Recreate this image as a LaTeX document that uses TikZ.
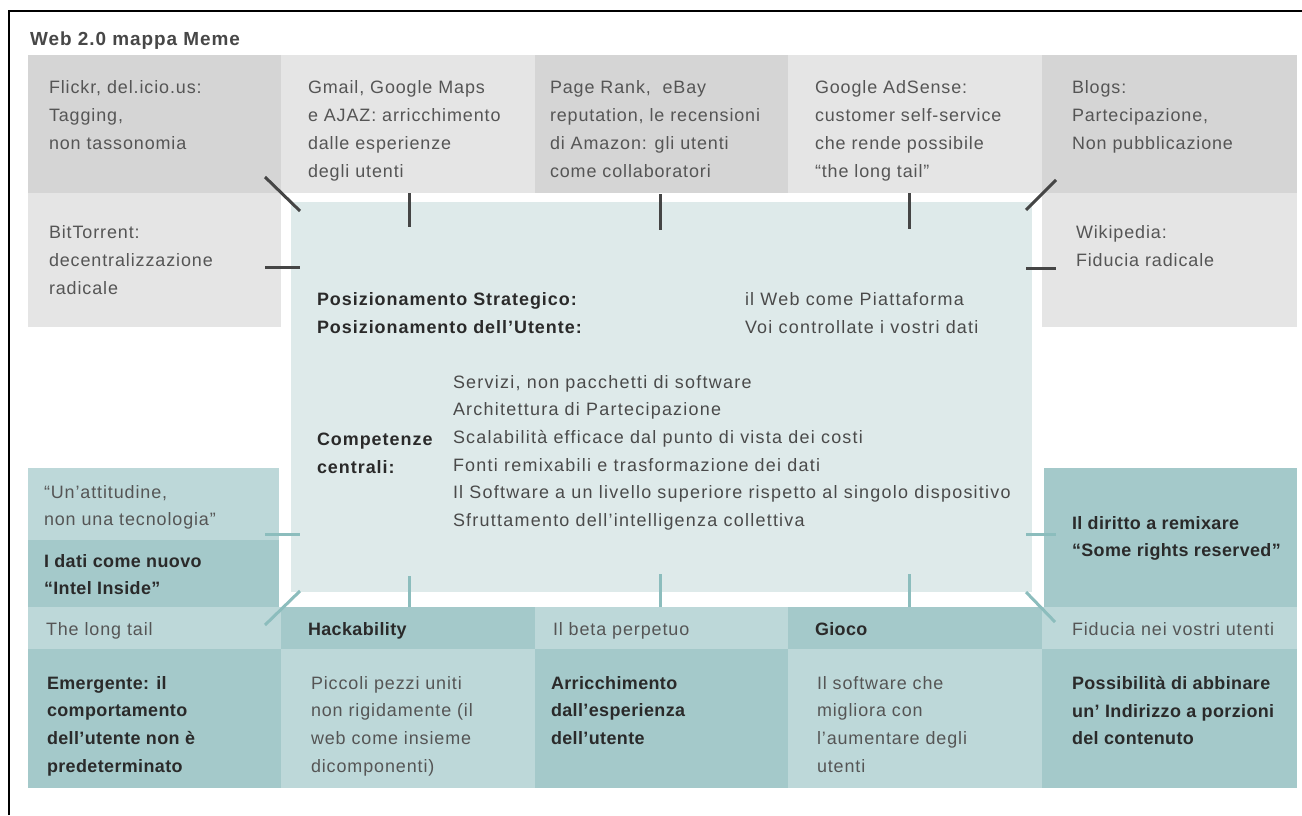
\documentclass[tikz,border=0pt]{standalone}
\usepackage{fontspec}
\setmainfont{Liberation Sans}
\newfontfamily\boxfont[LetterSpace=5]{Liberation Sans}
\newfontfamily\boldfont[LetterSpace=2.2]{Liberation Sans Bold}
\newfontfamily\coreboldfont[LetterSpace=5.5]{Liberation Sans Bold}
\newfontfamily\corefont[LetterSpace=7]{Liberation Sans}
\newfontfamily\titlefont[LetterSpace=5]{Liberation Sans Bold}
\definecolor{greydark}{HTML}{D5D5D5}
\definecolor{greylight}{HTML}{E5E5E5}
\definecolor{coreteal}{HTML}{DEEAEA}
\definecolor{tealdark}{HTML}{A4C9CA}
\definecolor{teallight}{HTML}{BDD8D9}
\definecolor{stubdark}{HTML}{454545}
\definecolor{stubteal}{HTML}{8CBDBD}
\definecolor{textgrey}{HTML}{555555}
\definecolor{textdark}{HTML}{2A2A2A}
\begin{document}
\begin{tikzpicture}[x=1bp,y=-1bp,
  cell/.style={inner sep=0pt, outer sep=0pt, anchor=north west, draw=none},
  txt/.style={anchor=north west, inner sep=0pt, outer sep=0pt, align=left,
    font=\boxfont\fontsize{18}{28}\selectfont, text=textgrey},
  btxt/.style={txt, font=\boldfont\fontsize{18}{28}\selectfont, text=textdark},
  cbtxt/.style={txt, font=\coreboldfont\fontsize{18}{28}\selectfont, text=textdark},
  ctxt/.style={txt, font=\corefont\fontsize{18}{27.8}\selectfont, text=textdark!85},
  darkstub/.style={draw=stubdark, line width=3bp},
  tealstub/.style={draw=stubteal, line width=3bp}]
\useasboundingbox (0,0) rectangle (1302,815);
\fill[white] (0,0) rectangle (1302,815);

% frame
\draw[black, line width=1.5bp] (9,815) -- (9,11) -- (1302,11);

% title
\node[anchor=north west, inner sep=0pt, font=\titlefont\fontsize{19}{20}\selectfont, text=black!72] (title) at (30,32) {Web 2.0 mappa Meme};

% top row of cells
\node[cell, fill=greydark,  minimum width=253bp, minimum height=138bp] (top1) at (28,55) {};
\node[cell, fill=greylight, minimum width=254bp, minimum height=138bp] (top2) at (281,55) {};
\node[cell, fill=greydark,  minimum width=253bp, minimum height=138bp] (top3) at (535,55) {};
\node[cell, fill=greylight, minimum width=254bp, minimum height=138bp] (top4) at (788,55) {};
\node[cell, fill=greydark,  minimum width=255bp, minimum height=138bp] (top5) at (1042,55) {};

% side cells
\node[cell, fill=greylight, minimum width=253bp, minimum height=134bp] (bitt) at (28,193) {};
\node[cell, fill=greylight, minimum width=255bp, minimum height=134bp] (wiki) at (1042,193) {};
\node[cell, fill=teallight, minimum width=251bp, minimum height=72bp] (attit) at (28,468) {};
\node[cell, fill=tealdark,  minimum width=251bp, minimum height=67bp] (intel) at (28,540) {};
\node[cell, fill=tealdark,  minimum width=253bp, minimum height=139bp] (remix) at (1044,468) {};

% core
\node[cell, fill=coreteal, minimum width=741bp, minimum height=390bp] (core) at (291,202) {};

% bottom strip
\node[cell, fill=teallight, minimum width=253bp, minimum height=42bp] (s1) at (28,607) {};
\node[cell, fill=tealdark,  minimum width=254bp, minimum height=42bp] (s2) at (281,607) {};
\node[cell, fill=teallight, minimum width=253bp, minimum height=42bp] (s3) at (535,607) {};
\node[cell, fill=tealdark,  minimum width=254bp, minimum height=42bp] (s4) at (788,607) {};
\node[cell, fill=teallight, minimum width=255bp, minimum height=42bp] (s5) at (1042,607) {};

% bottom row
\node[cell, fill=tealdark,  minimum width=253bp, minimum height=139bp] (b1) at (28,649) {};
\node[cell, fill=teallight, minimum width=254bp, minimum height=139bp] (b2) at (281,649) {};
\node[cell, fill=tealdark,  minimum width=253bp, minimum height=139bp] (b3) at (535,649) {};
\node[cell, fill=teallight, minimum width=254bp, minimum height=139bp] (b4) at (788,649) {};
\node[cell, fill=tealdark,  minimum width=255bp, minimum height=139bp] (b5) at (1042,649) {};

% texts, top row
\node[txt] (t1) at (49,81) {Flickr, del.icio.us:\\Tagging,\\non tassonomia};
\node[txt] (t2) at (308,81) {Gmail, Google Maps\\e AJAZ: arricchimento\\dalle esperienze\\degli utenti};
\node[txt] (t3) at (550,81) {Page Rank,\ \ eBay\\reputation, le recensioni\\di Amazon: gli utenti\\come collaboratori};
\node[txt] (t4) at (815,81) {Google AdSense:\\customer self-service\\che rende possibile\\“the long tail”};
\node[txt] (t5) at (1072,81) {Blogs:\\Partecipazione,\\Non pubblicazione};
\node[txt] (tbitt) at (49,226) {BitTorrent:\\decentralizzazione\\radicale};
\node[txt] (twiki) at (1076,226) {Wikipedia:\\Fiducia radicale};

% core texts
\node[cbtxt] (pos) at (317,293) {Posizionamento Strategico:\\Posizionamento dell’Utente:};
\node[ctxt] (posv) at (745,293) {il Web come Piattaforma\\Voi controllate i vostri dati};
\node[cbtxt] (comp) at (317,433) {Competenze\\centrali:};
\node[ctxt] (compv) at (453,375) {Servizi, non pacchetti di software\\Architettura di Partecipazione\\Scalabilità efficace dal punto di vista dei costi\\Fonti remixabili e trasformazione dei dati\\Il Software a un livello superiore rispetto al singolo dispositivo\\Sfruttamento dell’intelligenza collettiva};

% lower side texts
\node[txt] (tattit) at (44,485) {“Un’attitudine,\\non una tecnologia”};
\node[btxt] (tintel) at (44,554) {I dati come nuovo\\“Intel Inside”};
\node[btxt] (tremix) at (1072,516) {Il diritto a remixare\\“Some rights reserved”};

% strip texts
\node[txt] (ts1) at (46,622) {The long tail};
\node[btxt] (ts2) at (308,622) {Hackability};
\node[txt] (ts3) at (553,622) {Il beta perpetuo};
\node[btxt] (ts4) at (815,622) {Gioco};
\node[txt] (ts5) at (1072,622) {Fiducia nei vostri utenti};

% bottom texts
\node[btxt] (tb1) at (47,676) {Emergente: il\\comportamento\\dell’utente non è\\predeterminato};
\node[txt] (tb2) at (311,676) {Piccoli pezzi uniti\\non rigidamente (il\\web come insieme\\dicomponenti)};
\node[btxt] (tb3) at (551,676) {Arricchimento\\dall’esperienza\\dell’utente};
\node[txt] (tb4) at (817,676) {Il software che\\migliora con\\l’aumentare degli\\utenti};
\node[btxt] (tb5) at (1072,676) {Possibilità di abbinare\\un’ Indirizzo a porzioni\\del contenuto};

% stub end points
\coordinate (d1a) at (265,177); \coordinate (d1b) at (300,211);
\coordinate (d2a) at (409,193); \coordinate (d2b) at (409,227);
\coordinate (d3a) at (660,194); \coordinate (d3b) at (660,230);
\coordinate (d4a) at (909,193); \coordinate (d4b) at (909,229);
\coordinate (d5a) at (1056,180); \coordinate (d5b) at (1026,210);
\coordinate (d6a) at (265,267); \coordinate (d6b) at (300,267);
\coordinate (d7a) at (1026,268); \coordinate (d7b) at (1056,268);
\coordinate (e1a) at (265,534); \coordinate (e1b) at (300,534);
\coordinate (e2a) at (300,591); \coordinate (e2b) at (265,625);
\coordinate (e3a) at (409,576); \coordinate (e3b) at (409,607);
\coordinate (e4a) at (660,574); \coordinate (e4b) at (660,607);
\coordinate (e5a) at (909,574); \coordinate (e5b) at (909,607);
\coordinate (e6a) at (1026,534); \coordinate (e6b) at (1056,534);
\coordinate (e7a) at (1026,592); \coordinate (e7b) at (1055,622);

% dark stubs from the grey cells
\draw[darkstub] (d1a) -- (d1b);
\draw[darkstub] (d2a) -- (d2b);
\draw[darkstub] (d3a) -- (d3b);
\draw[darkstub] (d4a) -- (d4b);
\draw[darkstub] (d5a) -- (d5b);
\draw[darkstub] (d6a) -- (d6b);
\draw[darkstub] (d7a) -- (d7b);

% teal stubs from the teal cells
\draw[tealstub] (e1a) -- (e1b);
\draw[tealstub] (e2a) -- (e2b);
\draw[tealstub] (e3a) -- (e3b);
\draw[tealstub] (e4a) -- (e4b);
\draw[tealstub] (e5a) -- (e5b);
\draw[tealstub] (e6a) -- (e6b);
\draw[tealstub] (e7a) -- (e7b);
\end{tikzpicture}
\end{document}
